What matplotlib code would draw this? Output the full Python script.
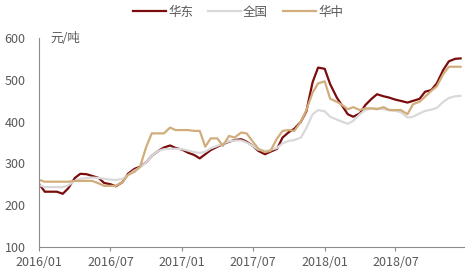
import pandas as pd
import matplotlib
matplotlib.use("Agg")
import matplotlib.pyplot as plt
import matplotlib.dates as mdates

plt.rcParams['font.family'] = ['Noto Sans CJK SC', 'DejaVu Sans']

# semi-monthly observations, 2016/01 - 2018/12
dates = pd.date_range("2016-01-01", "2018-12-15", freq="SMS")

huadong = [250, 232, 232, 232, 227, 240, 265, 275, 274, 270, 265, 253,
           250, 245, 255, 275, 287, 292, 303, 318, 330, 338, 343, 337,
           333, 326, 320, 312, 322, 332, 340, 346, 352, 356, 358, 352,
           342, 330, 322, 328, 335, 362, 375, 383, 400, 425, 495, 530,
           527, 490, 458, 438, 418, 412, 420, 440, 455, 466, 461, 458,
           453, 450, 446, 450, 455, 472, 476, 492, 525, 545, 551, 552]

quanguo = [248, 243, 243, 243, 243, 247, 258, 263, 265, 266, 265, 263,
           261, 260, 263, 272, 283, 290, 303, 318, 330, 334, 335, 335,
           334, 331, 327, 325, 328, 336, 342, 347, 353, 355, 355, 350,
           342, 333, 330, 332, 337, 348, 354, 356, 362, 385, 418, 428,
           425, 412, 405, 400, 395, 402, 418, 428, 432, 432, 430, 428,
           426, 423, 410, 412, 420, 426, 429, 433, 448, 457, 461, 462]

huazhong = [260, 256, 256, 256, 256, 256, 258, 258, 258, 258, 252, 246,
            246, 246, 255, 272, 280, 292, 340, 372, 372, 372, 386, 380,
            380, 380, 378, 378, 340, 360, 360, 342, 366, 362, 374, 372,
            352, 335, 327, 330, 360, 378, 380, 378, 400, 428, 470, 492,
            497, 455, 448, 440, 430, 435, 428, 432, 432, 430, 435, 428,
            428, 428, 418, 442, 448, 460, 474, 485, 515, 532, 532, 532]

fig = plt.figure(figsize=(4.76, 2.79), dpi=100)
ax = fig.add_axes([0.0826, 0.1158, 0.8924, 0.7465])

ax.plot(dates, huadong, color="#7a0c0c", lw=1.6, label="华东")
ax.plot(dates, quanguo, color="#d9d9d9", lw=1.6, label="全国")
ax.plot(dates, huazhong, color="#d2ad7c", lw=1.6, label="华中")

ax.set_ylim(100, 600)
ax.set_yticks([100, 200, 300, 400, 500, 600])
ax.set_xlim(pd.Timestamp("2016-01-01"), pd.Timestamp("2018-12-24"))
ax.set_xticks(pd.to_datetime(["2016-01-01", "2016-07-01", "2017-01-01",
                              "2017-07-01", "2018-01-01", "2018-07-01"]))
ax.xaxis.set_major_formatter(mdates.DateFormatter("%Y/%m"))

for s in ["top", "right"]:
    ax.spines[s].set_visible(False)
for s in ["left", "bottom"]:
    ax.spines[s].set_color("#8c8c8c")
ax.tick_params(axis="y", length=0, pad=10, labelsize=9, labelcolor="#595959")
ax.tick_params(axis="x", length=3, color="#8c8c8c", labelsize=9, labelcolor="#595959")

ax.text(0.025, 600, "元/吨", transform=ax.get_yaxis_transform(), fontsize=9,
        color="#595959", va="center")

fig.legend(loc="upper center", bbox_to_anchor=(0.5, 1.02), ncol=3,
           frameon=False, fontsize=9, handlelength=2.6, handletextpad=0.2,
           columnspacing=1.2, labelcolor="#595959")

fig.savefig("out.png", dpi=100)
